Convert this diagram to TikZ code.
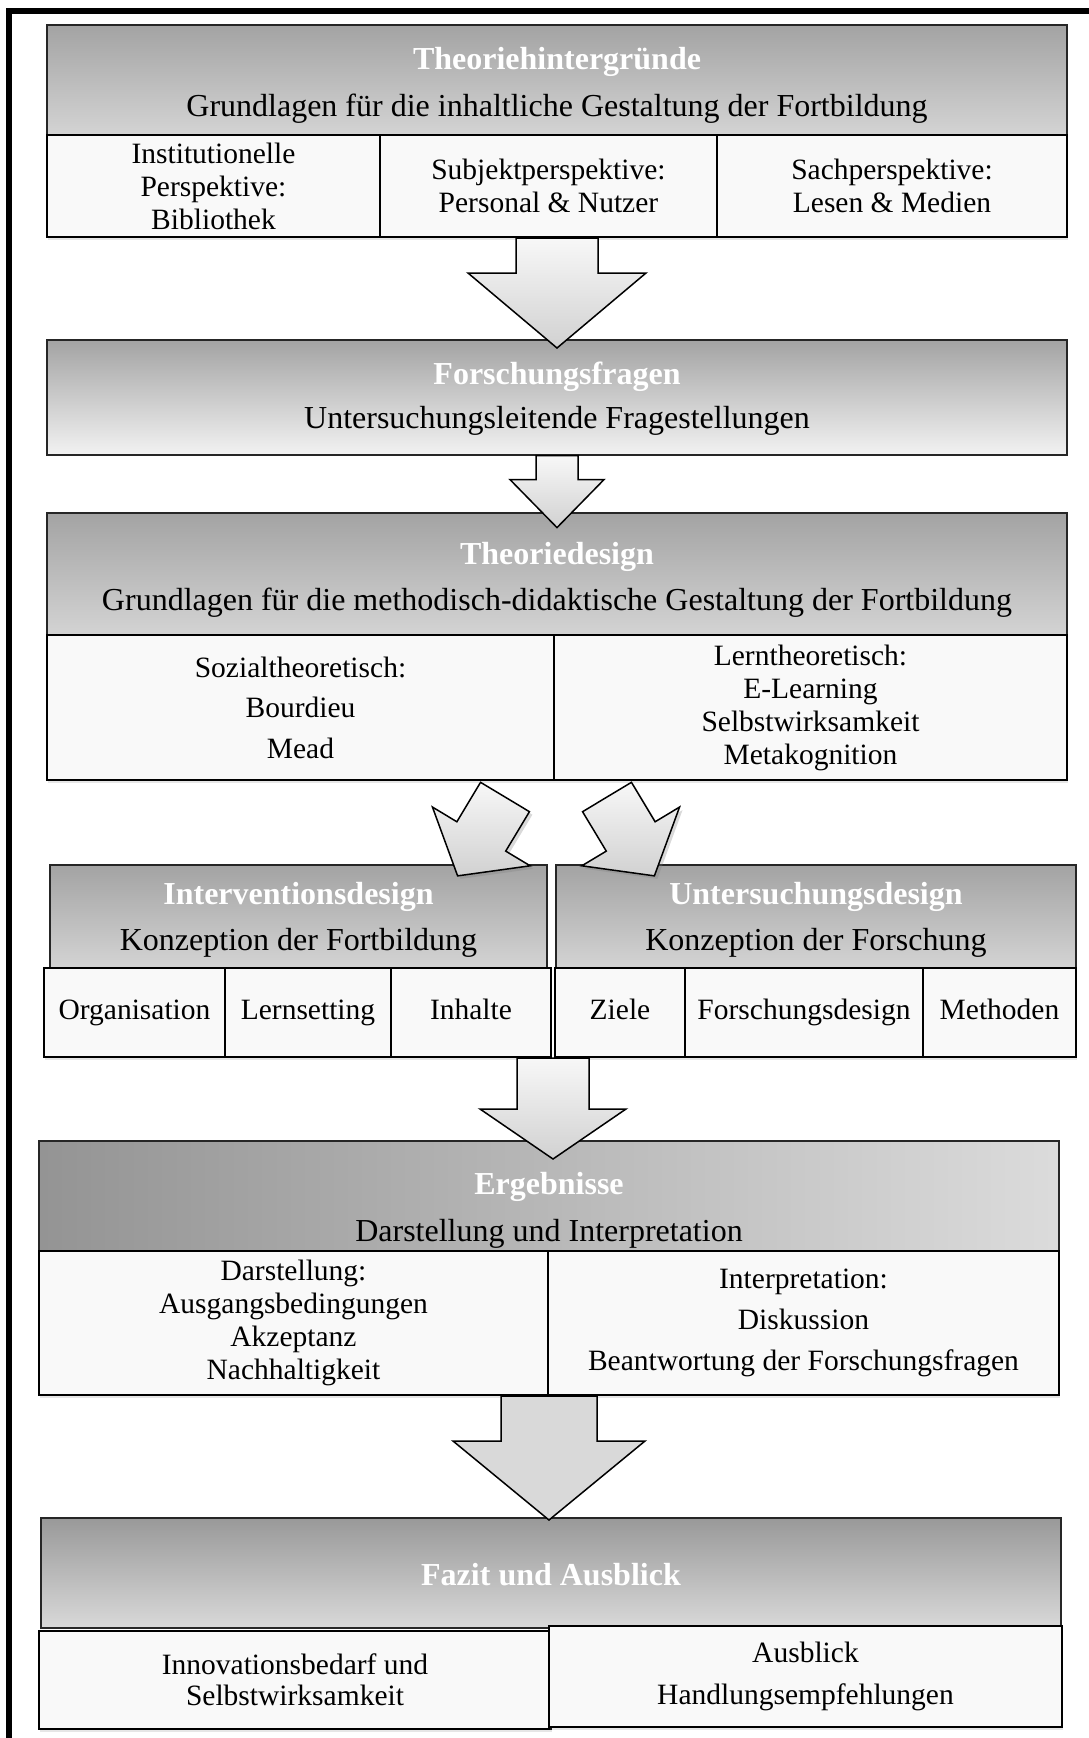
\documentclass[tikz,border=0pt]{standalone}
\usepackage{fontspec}
\setmainfont{Liberation Serif}
\usepackage{xcolor}
\usepackage{tikz}
\usetikzlibrary{positioning,calc,shadows}

\definecolor{hdtop}{gray}{0.64}
\definecolor{hdbot}{gray}{0.83}
\definecolor{hdlight}{gray}{0.95}
\definecolor{subfill}{gray}{0.975}
\definecolor{arrtop}{gray}{0.97}
\definecolor{arrbot}{gray}{0.82}
\newcommand{\boxtitle}[1]{\textbf{\textcolor{white}{#1}}}

\begin{document}
\begin{tikzpicture}[x=1pt, y=-1pt,
    boxhead/.style={draw=black!85, line width=1.2pt, inner sep=0pt},
    head/.style={boxhead, top color=hdtop, bottom color=hdbot},
    hdtext/.style={align=center, inner sep=0pt, font=\fontsize{32}{35}\selectfont},
    sub/.style={draw=black, line width=2pt, fill=subfill, align=center, inner sep=0pt,
      font=\fontsize{29.5}{33}\selectfont,
      drop shadow={opacity=0.2, shadow xshift=1pt, shadow yshift=-3pt}},
    oneline/.style={sub, text height=21pt, text depth=7pt},
    bigarrow/.style={draw=black, line width=1.5pt, line join=miter, top color=arrtop, bottom color=arrbot}
  ]
    \useasboundingbox (0,0) rectangle (1089,1738);

    % Frame
    \draw[line width=6pt] (9,1738) -- (9,11) -- (1089,11);

    % Theoriehintergruende
    \node[head, minimum width=1020, minimum height=110] (h1) at (557,80) {};
    \node[hdtext] (t1) at (557,85)
        {\boxtitle{Theoriehintergründe}\\[12pt] Grundlagen für die inhaltliche Gestaltung der Fortbildung};
    \node[sub, minimum width=333, minimum height=102] (s11) at (213.5,186) {Institutionelle\\Perspektive:\\Bibliothek};
    \node[sub, minimum width=337, minimum height=102] (s12) at (548.5,186) {Subjektperspektive:\\Personal \& Nutzer};
    \node[sub, minimum width=350, minimum height=102] (s13) at (892,186) {Sachperspektive:\\Lesen \& Medien};

    % Forschungsfragen
    \node[boxhead, top color=hdtop, bottom color=hdlight, minimum width=1020, minimum height=115] (h2) at (557,397.5) {};
    \node[hdtext] (t2) at (557,399)
        {\boxtitle{Forschungsfragen}\\[9pt] Untersuchungsleitende Fragestellungen};

    % Theoriedesign
    \node[head, minimum width=1020, minimum height=122] (h3) at (557,574) {};
    \node[hdtext] (t3) at (557,580)
        {\boxtitle{Theoriedesign}\\[11pt] Grundlagen für die methodisch-didaktische Gestaltung der Fortbildung};
    \node[sub, minimum width=507, minimum height=145] (s31) at (300.5,707.5) {Sozialtheoretisch:\\[7pt]Bourdieu\\[8pt]Mead};
    \node[sub, minimum width=513, minimum height=145] (s32) at (810.5,707.5) {Lerntheoretisch:\\E-Learning\\Selbstwirksamkeit\\Metakognition};

    % Interventionsdesign / Untersuchungsdesign
    \node[head, minimum width=497, minimum height=103] (h4l) at (298.5,916.5) {};
    \node[hdtext] (t4l) at (298.5,920) {\boxtitle{Interventionsdesign}\\[11pt] Konzeption der Fortbildung};
    \node[head, minimum width=520, minimum height=103] (h4r) at (816,916.5) {};
    \node[hdtext] (t4r) at (816,920) {\boxtitle{Untersuchungsdesign}\\[11pt] Konzeption der Forschung};
    \node[oneline, minimum width=181, minimum height=89] (s41) at (134.5,1012.5) {Organisation};
    \node[oneline, minimum width=166, minimum height=89] (s42) at (308,1012.5) {Lernsetting};
    \node[oneline, minimum width=160, minimum height=89] (s43) at (471,1012.5) {Inhalte};
    \node[oneline, minimum width=130, minimum height=89] (s44) at (620,1012.5) {Ziele};
    \node[oneline, minimum width=238, minimum height=89] (s45) at (804,1012.5) {Forschungsdesign};
    \node[oneline, minimum width=153, minimum height=89] (s46) at (999.5,1012.5) {Methoden};

    % Ergebnisse
    \node[boxhead, left color=black!42, right color=black!14,
          minimum width=1020, minimum height=110] (h5) at (549,1196) {};
    \node[hdtext] (t5) at (549,1210) {\boxtitle{Ergebnisse}\\[12pt] Darstellung und Interpretation};
    \node[sub, minimum width=509, minimum height=144] (s51) at (293.5,1323)
        {Darstellung:\\Ausgangsbedingungen\\Akzeptanz\\Nachhaltigkeit};
    \node[sub, minimum width=511, minimum height=144] (s52) at (803.5,1323)
        {Interpretation:\\[8pt]Diskussion\\[8pt]Beantwortung der Forschungsfragen};

    % Fazit und Ausblick
    \node[boxhead, top color=black!40, bottom color=black!15, minimum width=1020, minimum height=110] (h6) at (551,1573) {};
    \node[hdtext] (t6) at (551,1575) {\boxtitle{Fazit und Ausblick}};
    \node[sub, minimum width=512, minimum height=98] (s61) at (295,1680) {Innovationsbedarf und\\[-2pt]Selbstwirksamkeit};
    \node[sub, minimum width=513, minimum height=101] (s62) at (805.5,1676.5) {Ausblick\\[9pt]Handlungsempfehlungen};

    % Block arrows
    \draw[bigarrow] (h1.south |- s12.south) ++(-41,0) -- ++(0,35) -- ++(-48,0) -- ++(89,75)
        -- ++(89,-75) -- ++(-48,0) -- ++(0,-35) -- cycle;
    \draw[bigarrow] (h2.south) ++(-21,0) -- ++(0,24) -- ++(-26,0) -- ++(47,48)
        -- ++(47,-48) -- ++(-26,0) -- ++(0,-24) -- cycle;
    \coordinate (lt) at ($(s31.south east)+(-50,16)$);
    \coordinate (rt) at ($(s32.south west)+(54,16)$);
    \begin{scope}[shift={(lt)}, rotate=-31]
        \draw[bigarrow, drop shadow={opacity=0.3, shadow xshift=3pt, shadow yshift=-3pt}]
            (-28.5,0) -- (-28.5,46) -- (-57,46) -- (0,92) -- (57,46) -- (28.5,46) -- (28.5,0) -- cycle;
    \end{scope}
    \begin{scope}[shift={(rt)}, rotate=31]
        \draw[bigarrow, drop shadow={opacity=0.3, shadow xshift=3pt, shadow yshift=-3pt}]
            (-28.5,0) -- (-28.5,46) -- (-57,46) -- (0,92) -- (57,46) -- (28.5,46) -- (28.5,0) -- cycle;
    \end{scope}
    \draw[bigarrow] ($(s43.south east)!0.5!(s44.south west)$) ++(-36,0) -- ++(0,51) -- ++(-37,0) -- ++(73,50)
        -- ++(73,-50) -- ++(-37,0) -- ++(0,-51) -- cycle;
    \draw[bigarrow, top color=black!15, bottom color=black!15] (s51.south east) ++(-48,0) -- ++(0,45) -- ++(-48,0) -- ++(96,79)
        -- ++(96,-79) -- ++(-48,0) -- ++(0,-45) -- cycle;
\end{tikzpicture}
\end{document}
